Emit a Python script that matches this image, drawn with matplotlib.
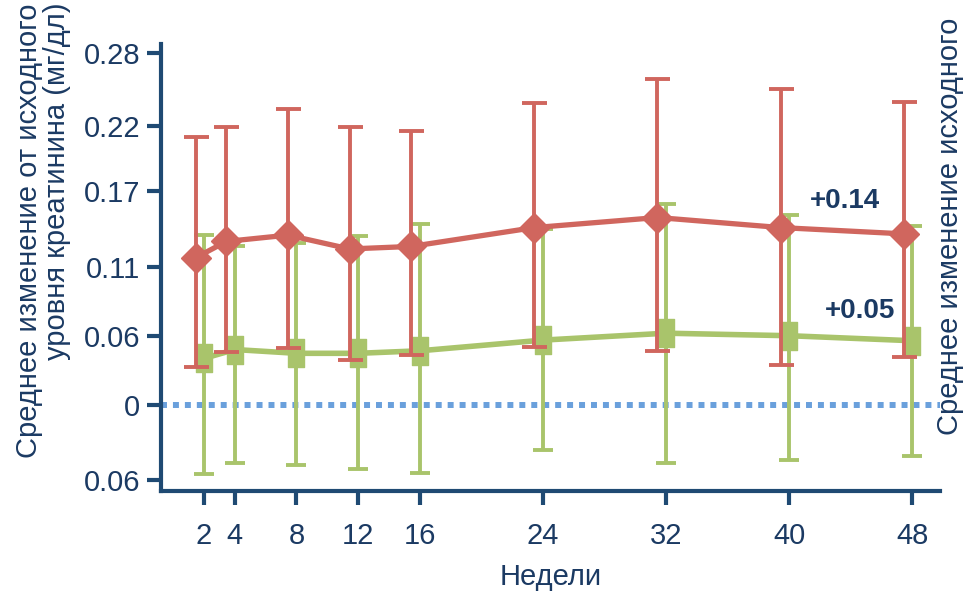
import matplotlib.pyplot as plt
import numpy as np
from matplotlib.path import Path

plt.rcParams['font.family'] = ['Liberation Sans', 'DejaVu Sans']

weeks = [2, 4, 8, 12, 16, 24, 32, 40, 48]

red_mean = [0.117, 0.130, 0.135, 0.124, 0.126, 0.141, 0.149, 0.141, 0.136]
red_hi = [0.213, 0.221, 0.235, 0.221, 0.218, 0.240, 0.259, 0.251, 0.241]
red_lo = [0.030, 0.042, 0.045, 0.036, 0.040, 0.046, 0.043, 0.032, 0.038]

green_mean = [0.037, 0.044, 0.041, 0.041, 0.043, 0.0515, 0.057, 0.055, 0.051]
green_hi = [0.135, 0.126, 0.129, 0.134, 0.144, 0.140, 0.160, 0.151, 0.142]
green_lo = [-0.055, -0.046, -0.048, -0.051, -0.054, -0.036, -0.046, -0.044, -0.041]

y_ticks = [-0.06, 0, 0.055, 0.11, 0.17, 0.222, 0.28]
y_tick_labels = ['0.06', '0', '0.06', '0.11', '0.17', '0.22', '0.28']

navy = '#1f4a73'
text_col = '#1b3a63'
red = '#d0665e'
green = '#a9c46b'
blue = '#6aa0dc'

fig = plt.figure(figsize=(9.63, 5.95), dpi=100)
ax = fig.add_axes([161 / 963, 1 - 491 / 595, (940 - 161) / 963, (491 - 44) / 595])

# tall rectangle marker for the green series
rect = Path([(-0.55, -1), (0.55, -1), (0.55, 1), (-0.55, 1), (-0.55, -1)],
            [Path.MOVETO, Path.LINETO, Path.LINETO, Path.LINETO, Path.CLOSEPOLY])

ax.axhline(0, color=blue, lw=4.3, linestyle=(0, (1, 1)), dash_capstyle='butt', zorder=1)

gx = np.array(weeks, dtype=float)
g = np.array(green_mean)
ax.errorbar(gx, g, yerr=[g - np.array(green_lo), np.array(green_hi) - g],
            color=green, lw=4, marker=rect, ms=20, elinewidth=2.8, capsize=7,
            capthick=2.8, zorder=2)

rx = np.array(weeks, dtype=float) - 0.55
r = np.array(red_mean)
ax.errorbar(rx, r, yerr=[r - np.array(red_lo), np.array(red_hi) - r],
            color=red, lw=3.8, marker='D', ms=15, elinewidth=2.8, capsize=9,
            capthick=2.8, zorder=3)

ax.text(43.6, 0.162, '+0.14', color=text_col, fontsize=20, fontweight='bold',
        ha='center', va='center')
ax.text(44.6, 0.075, '+0.05', color=text_col, fontsize=20, fontweight='bold',
        ha='center', va='center')

ax.set_xlim(-0.8, 49.8)
ax.set_ylim(-0.0685, 0.287)
ax.set_xticks(weeks)
ax.set_xticklabels([str(w) for w in weeks])
ax.set_yticks(y_ticks)
ax.set_yticklabels(y_tick_labels)

for side in ['top', 'right']:
    ax.spines[side].set_visible(False)
for side in ['left', 'bottom']:
    ax.spines[side].set_color(navy)
    ax.spines[side].set_linewidth(3)
ax.tick_params(axis='both', colors=navy, labelcolor=text_col, labelsize=21,
               width=3, length=10, pad=5)
ax.tick_params(axis='x', pad=12)

ax.set_xlabel('Недели', color=text_col, fontsize=21, labelpad=10)

fig.text(43 / 963, 1 - 3 / 595, 'Среднее изменение от исходного\nуровня креатинина (мг/дл)',
         rotation=90, ha='center', va='top', multialignment='right',
         color=text_col, fontsize=21, linespacing=1.0)
fig.text(950 / 963, 1 - 435 / 595, 'Среднее изменение исходного',
         rotation=90, ha='center', va='bottom', color=text_col, fontsize=21)

fig.savefig('out.png', dpi=100)
